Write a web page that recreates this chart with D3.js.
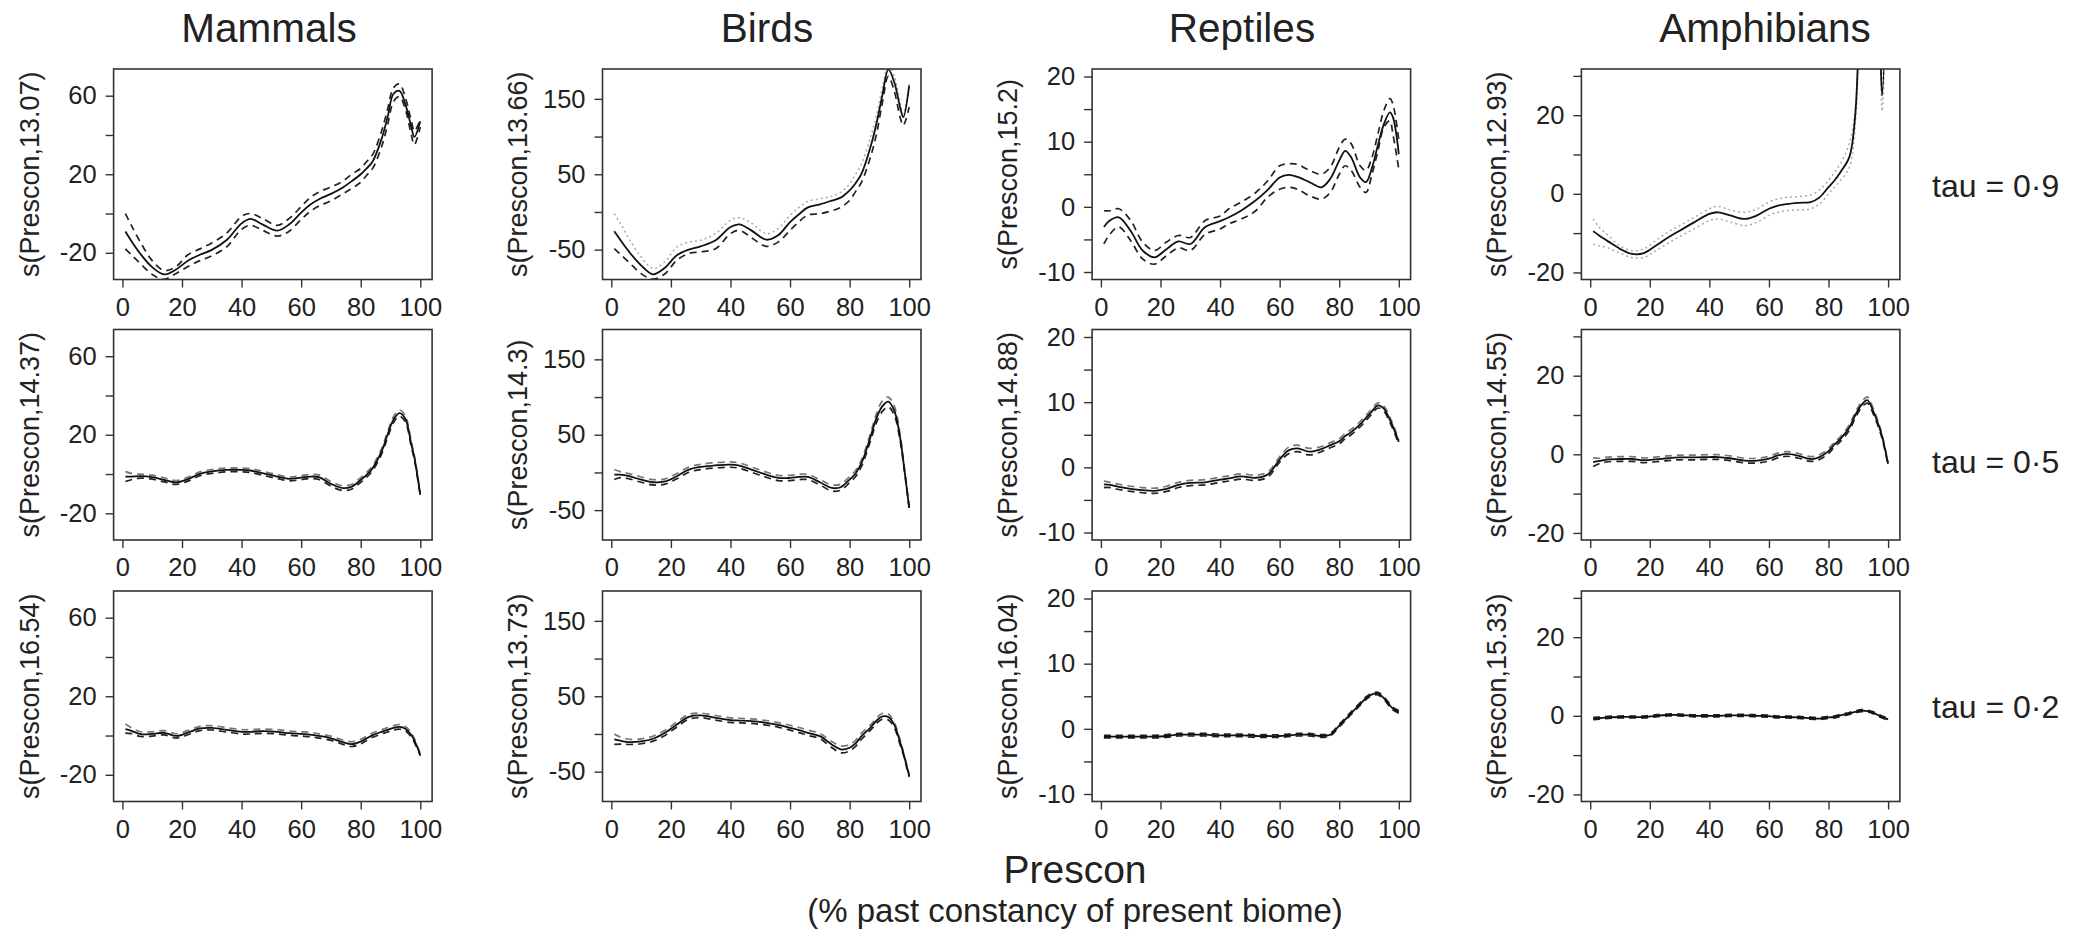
<!DOCTYPE html>
<html>
<head>
<meta charset="utf-8">
<script src="https://cdn.jsdelivr.net/npm/d3@7"></script>
<style>
  body { margin: 0; background: #fff; }
  svg { display: block; font-family: "Liberation Sans", Arial, sans-serif; }
  text { fill: #222; }
</style>
</head>
<body>
<svg id="chart" width="2094" height="933"></svg>
<script>
var prescon = [1, 3, 6, 10, 14, 18, 22, 26, 30, 35, 40, 43, 47, 52, 56, 60, 63, 66, 70, 74, 77, 80, 82, 84, 87, 89, 91, 93, 95, 97, 98, 100];

var taxa = ["Mammals", "Birds", "Reptiles", "Amphibians"];
var tauLabels = ["tau = 0·9", "tau = 0·5", "tau = 0·2"];
var edf = [["13.07", "13.66", "15.2", "12.93"],
           ["14.37", "14.3", "14.88", "14.55"],
           ["16.54", "13.73", "16.04", "15.33"]];

var xTicks = [0, 20, 40, 60, 80, 100];
var yTicks = [[-20, 0, 20, 40, 60], [-50, 0, 50, 100, 150], [-10, -5, 0, 5, 10, 15, 20], [-20, -10, 0, 10, 20, 30]];
var yTickLabels = [[-20, 20, 60], [-50, 50, 150], [-10, 0, 10, 20], [-20, 0, 20]];
var yDomains = [[-33.6, 73.6], [-89.6, 189.6], [-11.15, 21.15], [-21.8, 31.75]];

// tau = 0.9
var mammals09   = [-9.2, -14, -20.5, -27.3, -31, -28.5, -24, -21, -18.5, -13.5, -5, -2.7, -5.5, -8.7, -5.5, 0.5, 4.5, 7.3, 10, 13.3, 16.5, 20, 23, 26.5, 38, 49, 61, 62.5, 55.6, 44, 39, 47];
var mammals09Hi = [0, -6, -14.5, -24, -29, -27, -21, -18, -15, -10, -1.5, 0, -2.5, -6, -2.5, 3.5, 8, 11, 13.5, 16.5, 20, 23, 26.5, 30, 42, 53, 64, 66, 59, 47, 42, 48];
var mammals09Lo = [-18, -21, -25.5, -31, -33.5, -30.5, -27, -24, -21.5, -17, -8, -6, -8.5, -11.5, -9, -3, 1, 3.8, 6.5, 10, 12.8, 16, 19.5, 23, 34, 45, 57, 59.5, 53, 40, 35, 44];

var birds09   = [-25.7, -37, -53, -70.8, -82.7, -74, -57.5, -50, -45.6, -37.6, -20, -16.4, -24.4, -36.8, -31, -13.4, -3, 6, 10, 15, 19, 28.6, 38, 50.7, 86, 117, 155, 189, 172, 138, 125.7, 167.7];
var birds09Hi = [-2.3, -15, -36, -59.7, -75, -66, -46.5, -40, -37.6, -28.8, -11, -7.6, -14.7, -28.8, -22, -4.5, 6, 14, 17.5, 21, 26, 37.4, 50, 64, 99, 128, 165, 195, 180, 145, 130, 170];
var birds09Lo = [-48.7, -56, -67, -81.8, -89, -82, -64, -55, -53, -48.7, -28.8, -24.4, -34, -45.6, -40, -24.4, -13, -4, -2.3, 1.5, 6, 15.3, 27, 39.6, 72.7, 103, 145, 180, 160, 125, 114.7, 139];

var reptiles09   = [-3.1, -2.1, -1.6, -3.7, -6.7, -7.75, -6.5, -5.3, -5.7, -3.1, -2.2, -1.6, -0.6, 1, 2.6, 4.5, 4.9, 4.6, 3.8, 3.0, 4.3, 7.1, 8.6, 7.6, 4.5, 3.8, 6, 9.5, 12.7, 14.5, 13.8, 8.1];
var reptiles09Hi = [-0.6, -0.6, -0.3, -2.1, -5.4, -6.7, -5.4, -4.4, -4.7, -2.1, -1.4, -0.3, 0.7, 2.2, 4, 6.3, 6.6, 6.5, 5.6, 5, 6.1, 9.1, 10.4, 9.7, 6.3, 5.6, 7.6, 11.2, 14.8, 16.6, 15.8, 10.2];
var reptiles09Lo = [-5.7, -4.2, -3.1, -5.2, -8, -8.8, -7.5, -6.3, -6.7, -4.2, -3.4, -2.6, -1.9, -0.6, 1.5, 2.7, 3, 2.7, 1.7, 1.2, 2.2, 5, 6.3, 5.6, 3, 2.2, 5, 8.6, 12.2, 13.2, 11.2, 5.8];

var amphibians09   = [-9.5, -10.6, -12.1, -14, -15.3, -15.1, -13.2, -11.2, -9.4, -7.2, -5.1, -4.7, -5.5, -6.4, -5.5, -3.8, -3, -2.6, -2.3, -2.1, -0.9, 1.7, 3.4, 5.5, 9.4, 20.4, 60, 80, 60, 45, 25, 70];
var amphibians09Hi = [-6.4, -8.5, -10.6, -13.2, -14.5, -14, -11.9, -9.8, -8.1, -6, -3.8, -3.2, -4.1, -4.7, -3.8, -2.1, -1.3, -0.9, -0.7, -0.3, 1, 3.4, 5.5, 7.7, 12.8, 22, 60, 80, 60, 47, 27, 72];
var amphibians09Lo = [-12.8, -13.2, -13.8, -15.1, -16.2, -16.2, -14.5, -12.6, -10.9, -8.9, -6.8, -6.4, -7.2, -8.1, -7.2, -5.5, -4.7, -4.3, -4.1, -3.8, -2.6, 0, 1.7, 3.4, 6.8, 17.9, 55, 80, 60, 42, 21, 66];

// tau = 0.5
var mammals05   = [-1.3, -1.3, -1.1, -1.6, -3, -4.3, -2.6, 0.1, 1.3, 2.1, 2.1, 1.8, 0.4, -1.3, -2.5, -1.8, -1.3, -1.6, -5, -7.2, -6.4, -3, -0.4, 3, 11.5, 20, 27.7, 31, 28, 15, 8.5, -10.6];
var mammals05Hi = [1.2, 0.3, -0.1, -0.6, -2, -3.3, -1.6, 1.1, 2.3, 3.1, 3.1, 2.8, 1.4, -0.3, -1.5, -0.8, -0.3, -0.4, -3.8, -6, -5.2, -1.8, 0.8, 4.3, 12.9, 21.5, 29.2, 32.6, 29.5, 16.3, 9.5, -10];
var mammals05Lo = [-3.8, -2.9, -2.1, -2.6, -4, -5.3, -3.6, -0.9, 0.3, 1.1, 1.1, 0.8, -0.6, -2.3, -3.5, -2.8, -2.3, -2.8, -6.2, -8.4, -7.6, -4.2, -1.6, 1.7, 10.1, 18.5, 26.2, 29.5, 26.5, 13.7, 7.5, -11.2];

var birds05   = [-2.9, -2.9, -5, -9.5, -13, -12, -5, 3.8, 7.3, 9.5, 10.4, 9, 3.8, -2.9, -7.3, -7.3, -6, -6, -13, -20.5, -19.6, -9.5, -1.5, 12.6, 47, 72, 88, 94, 82, 45, 16, -47];
var birds05Hi = [3.8, 1, -1.5, -6, -9.5, -8.5, -1.5, 7.3, 10.8, 13, 13.9, 12.5, 7.3, 0.6, -3.8, -3.8, -2.5, -2.5, -9.5, -16.5, -15.6, -5.5, 2.5, 17, 52, 78, 95, 100, 88, 49, 18, -46];
var birds05Lo = [-9.5, -6.8, -8.5, -13, -16.5, -15.5, -8.5, 0.3, 3.8, 6, 6.9, 5.5, 0.3, -6.4, -10.8, -10.8, -9.5, -9.5, -16.5, -24.5, -23.6, -13.5, -5.5, 8.2, 42, 66, 81, 87, 76, 41, 14, -48];

var reptiles05   = [-2.6, -2.7, -3, -3.3, -3.5, -3.6, -3.3, -2.7, -2.4, -2.3, -1.9, -1.7, -1.4, -1.6, -1.1, 1.2, 2.6, 2.9, 2.4, 2.8, 3.4, 4, 4.8, 5.4, 6.6, 7.6, 8.6, 9.5, 9, 7.3, 6.3, 3.9];
var reptiles05Hi = [-2.1, -2.3, -2.6, -2.9, -3.1, -3.2, -2.9, -2.3, -2, -1.9, -1.5, -1.3, -1, -1.2, -0.7, 1.6, 3.1, 3.4, 2.9, 3.2, 3.8, 4.4, 5.2, 5.8, 7, 8, 9, 9.9, 9.4, 7.7, 6.7, 4.2];
var reptiles05Lo = [-3.1, -3.1, -3.4, -3.7, -3.9, -4, -3.7, -3.1, -2.8, -2.7, -2.3, -2.1, -1.8, -2, -1.5, 0.8, 2.1, 2.4, 1.9, 2.4, 3, 3.6, 4.4, 5, 6.2, 7.2, 8.2, 9.1, 8.6, 6.9, 5.9, 3.6];

var amphibians05   = [-2, -1.7, -1.3, -1.2, -1.2, -1.5, -1.3, -1, -0.8, -0.8, -0.7, -0.7, -1, -1.6, -1.6, -1.1, -0.3, 0.1, -0.4, -1.2, -0.7, 0.8, 2.5, 3.9, 6.8, 10, 12.5, 13.8, 11, 7, 4.5, -2.4];
var amphibians05Hi = [-0.9, -1, -0.7, -0.6, -0.6, -0.9, -0.7, -0.4, -0.2, -0.2, -0.1, -0.1, -0.4, -1, -1, -0.5, 0.3, 0.7, 0.2, -0.6, -0.1, 1.4, 3.1, 4.5, 7.5, 10.7, 13.2, 14.6, 11.7, 7.6, 5, -2];
var amphibians05Lo = [-3.1, -2.4, -1.9, -1.8, -1.8, -2.1, -1.9, -1.6, -1.4, -1.4, -1.3, -1.3, -1.6, -2.2, -2.2, -1.7, -0.9, -0.5, -1, -1.8, -1.3, 0.2, 1.9, 3.3, 6.1, 9.3, 11.8, 13, 10.3, 6.4, 4, -2.8];

// tau = 0.2
var mammals02   = [3.2, 2.4, 0.7, 0.8, 1.4, -0.2, 1.5, 3.6, 3.9, 2.9, 1.9, 1.9, 2.2, 1.9, 1.2, 0.8, 0.5, -0.2, -1.4, -3.4, -4.4, -3.1, -1.4, 0.2, 1.9, 2.9, 3.9, 4.4, 3.5, 0.3, -2.5, -9.8];
var mammals02Hi = [5.9, 4, 1.9, 1.9, 2.5, 0.9, 2.6, 4.7, 5, 4, 3, 3, 3.3, 3, 2.3, 1.9, 1.6, 0.9, -0.3, -2.3, -3.2, -1.9, -0.3, 1.3, 3, 4, 5, 5.6, 4.6, 1.4, -1.6, -9.3];
var mammals02Lo = [1.2, 1, -0.5, -0.3, 0.3, -1.3, 0.4, 2.5, 2.8, 1.8, 0.8, 0.8, 1.1, 0.8, 0.1, -0.3, -0.6, -1.3, -2.5, -4.5, -5.6, -4.3, -2.5, -0.9, 0.8, 1.8, 2.8, 3.2, 2.4, -0.8, -3.5, -10.3];

var birds02   = [-7.3, -9, -10.8, -9.9, -6.4, 1.5, 12.6, 22.7, 24.5, 21.4, 18.3, 17.8, 17, 14.8, 12.1, 8.2, 5.1, 1.5, -2.9, -13.9, -20.5, -18.3, -12.5, -3, 8.5, 17.5, 23.3, 22.5, 12, -11.7, -25, -55.7];
var birds02Hi = [0, -4, -7, -6.5, -3, 5, 16, 26, 27.5, 24.5, 21.3, 20.8, 20, 17.8, 15.1, 11.5, 8.5, 5, 0.5, -10, -16, -14, -8.5, 1, 12, 21, 27.5, 26.5, 15.5, -8.5, -23, -54];
var birds02Lo = [-13.9, -13.5, -14, -13, -9.5, -2, 9.2, 19.5, 21.5, 18.3, 15.3, 14.8, 14, 11.8, 9.1, 5, 1.8, -2, -6.3, -18, -25, -22.5, -16.5, -7, 5, 14, 19.7, 18.5, 8.5, -15, -27, -57];

var reptiles02   = [-1.2, -1.2, -1.2, -1.2, -1.2, -1.2, -1.1, -0.9, -0.9, -0.9, -1, -1, -1, -1.1, -1.1, -1.1, -1, -0.9, -0.9, -1.1, -0.9, 0.5, 1.4, 2.4, 3.8, 4.7, 5.3, 5.4, 4.7, 3.6, 3.1, 2.6];
var reptiles02Hi = [-1, -1, -1, -1, -1, -1, -0.9, -0.7, -0.7, -0.7, -0.8, -0.8, -0.8, -0.9, -0.9, -0.9, -0.8, -0.7, -0.7, -0.9, -0.7, 0.7, 1.6, 2.6, 4, 4.9, 5.5, 5.6, 4.9, 3.8, 3.3, 2.8];
var reptiles02Lo = [-1.4, -1.4, -1.4, -1.4, -1.4, -1.4, -1.3, -1.1, -1.1, -1.1, -1.2, -1.2, -1.2, -1.3, -1.3, -1.3, -1.2, -1.1, -1.1, -1.3, -1.1, 0.3, 1.2, 2.2, 3.6, 4.5, 5.1, 5.2, 4.5, 3.4, 2.9, 2.4];

var amphibians02   = [-0.7, -0.6, -0.4, -0.3, -0.3, -0.3, 0, 0.2, 0.2, 0, 0, 0, 0.1, 0.1, 0, -0.1, -0.3, -0.3, -0.4, -0.6, -0.7, -0.4, -0.3, 0.1, 0.6, 1, 1.3, 1.2, 0.8, 0, -0.3, -0.9];
var amphibians02Hi = [-0.4, -0.35, -0.15, -0.05, -0.05, -0.05, 0.25, 0.45, 0.45, 0.25, 0.25, 0.25, 0.35, 0.35, 0.25, 0.15, -0.05, -0.05, -0.15, -0.35, -0.45, -0.15, -0.05, 0.35, 0.85, 1.25, 1.55, 1.45, 1.05, 0.25, -0.05, -0.65];
var amphibians02Lo = [-1, -0.85, -0.65, -0.55, -0.55, -0.55, -0.25, -0.05, -0.05, -0.25, -0.25, -0.25, -0.15, -0.15, -0.25, -0.35, -0.55, -0.55, -0.65, -0.85, -0.95, -0.65, -0.55, -0.15, 0.35, 0.75, 1.05, 0.95, 0.55, -0.25, -0.55, -1.15];

// panels[row][col]; ci = style of [upper, lower] band lines
var panels = [
  [ { fit: mammals09, hi: mammals09Hi, lo: mammals09Lo, ci: ["dash", "dash"] },
    { fit: birds09, hi: birds09Hi, lo: birds09Lo, ci: ["dot", "dash"] },
    { fit: reptiles09, hi: reptiles09Hi, lo: reptiles09Lo, ci: ["dash", "dash"] },
    { fit: amphibians09, hi: amphibians09Hi, lo: amphibians09Lo, ci: ["dot", "dot"] } ],
  [ { fit: mammals05, hi: mammals05Hi, lo: mammals05Lo, ci: ["grey", "dash"] },
    { fit: birds05, hi: birds05Hi, lo: birds05Lo, ci: ["grey", "dash"] },
    { fit: reptiles05, hi: reptiles05Hi, lo: reptiles05Lo, ci: ["grey", "dash"] },
    { fit: amphibians05, hi: amphibians05Hi, lo: amphibians05Lo, ci: ["grey", "dash"] } ],
  [ { fit: mammals02, hi: mammals02Hi, lo: mammals02Lo, ci: ["grey", "dash"] },
    { fit: birds02, hi: birds02Hi, lo: birds02Lo, ci: ["grey", "dash"] },
    { fit: reptiles02, hi: reptiles02Hi, lo: reptiles02Lo, ci: ["dash", "dash"] },
    { fit: amphibians02, hi: amphibians02Hi, lo: amphibians02Lo, ci: ["dash", "dash"] } ]
];

var ciStyles = {
  dash: { stroke: "#222", dash: "7,5", width: 1.7 },
  grey: { stroke: "#777", dash: "7,5", width: 1.7 },
  dot:  { stroke: "#aaa", dash: "2,3", width: 1.5 }
};

// Layout
var colLeft = [113.6, 602.5, 1092.1, 1581.4], boxW = 318.5;
var rowTop = [69, 329.5, 591], boxH = 210.5;
var titleX = [269, 767, 1242, 1765];
var tauY = [196.7, 473.3, 718.3];

var svg = d3.select("#chart");

var x = d3.scaleLinear().domain([-2.96, 103.96]).range([0, boxW]);

panels.forEach(function(row, r) {
  row.forEach(function(p, c) {
    var y = d3.scaleLinear().domain(yDomains[c]).range([boxH, 0]);
    var g = svg.append("g").attr("transform", "translate(" + colLeft[c] + "," + rowTop[r] + ")");

    var clipId = "clip-" + r + "-" + c;
    g.append("clipPath").attr("id", clipId)
      .append("rect").attr("width", boxW).attr("height", boxH);

    var line = function(vals) {
      return d3.line()
        .x(function(d, i) { return x(prescon[i]); })
        .y(function(d) { return y(d); })
        .curve(d3.curveCatmullRom.alpha(0.5))(vals);
    };

    var plot = g.append("g").attr("clip-path", "url(#" + clipId + ")");
    [p.hi, p.lo].forEach(function(vals, k) {
      var s = ciStyles[p.ci[k]];
      plot.append("path")
        .attr("d", line(vals))
        .attr("fill", "none")
        .attr("stroke", s.stroke)
        .attr("stroke-width", s.width)
        .attr("stroke-dasharray", s.dash);
    });
    plot.append("path")
      .attr("d", line(p.fit))
      .attr("fill", "none")
      .attr("stroke", "#111")
      .attr("stroke-width", 1.8);

    // frame
    g.append("rect")
      .attr("width", boxW).attr("height", boxH)
      .attr("fill", "none").attr("stroke", "#333").attr("stroke-width", 1.6);

    // axes
    var ya = g.append("g")
      .call(d3.axisLeft(y).tickValues(yTicks[c]).tickSize(8).tickSizeOuter(0).tickPadding(9)
        .tickFormat(function(d) { return yTickLabels[c].indexOf(d) >= 0 ? d : ""; }));
    var xa = g.append("g").attr("transform", "translate(0," + boxH + ")")
      .call(d3.axisBottom(x).tickValues(xTicks).tickSize(8).tickSizeOuter(0).tickPadding(10));
    [ya, xa].forEach(function(a) {
      a.attr("font-size", null).attr("font-family", null);
      a.select(".domain").remove();
      a.selectAll("line").attr("stroke", "#333").attr("stroke-width", 1.4);
      a.selectAll("text").style("font-size", "25.5px").style("fill", "#222");
    });

    // y label
    g.append("text")
      .attr("transform", "translate(-84.5," + (boxH / 2) + ") rotate(-90)")
      .attr("text-anchor", "middle")
      .attr("dy", "0.35em")
      .style("font-size", "27px")
      .text("s(Prescon," + edf[r][c] + ")");

    if (r === 0) {
      svg.append("text")
        .attr("x", titleX[c]).attr("y", 41.7)
        .attr("text-anchor", "middle")
        .style("font-size", "40.5px")
        .text(taxa[c]);
    }
  });

  svg.append("text")
    .attr("x", 1932).attr("y", tauY[r])
    .style("font-size", "32px")
    .text(tauLabels[r]);
});

svg.append("text")
  .attr("x", 1075).attr("y", 883)
  .attr("text-anchor", "middle")
  .style("font-size", "39px")
  .text("Prescon");
svg.append("text")
  .attr("x", 1075).attr("y", 922)
  .attr("text-anchor", "middle")
  .style("font-size", "33px")
  .text("(% past constancy of present biome)");
</script>
</body>
</html>
